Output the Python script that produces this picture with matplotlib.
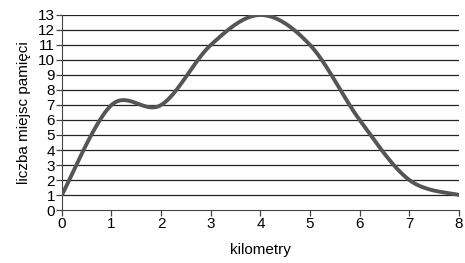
import numpy as np
import matplotlib.pyplot as plt

plt.rcParams['font.family'] = ['Liberation Sans', 'DejaVu Sans']

km = [0, 1, 2, 3, 4, 5, 6, 7, 8]
miejsca = [1, 7, 7, 11, 13, 11, 6, 2, 1]
yticks = list(range(0, 14))
xticks = list(range(0, 9))


def smooth(xs, ys, n=40):
    # Excel-style smoothed line (Catmull-Rom via Bezier)
    p = np.column_stack([xs, ys]).astype(float)
    p = np.vstack([p[0], p, p[-1]])
    out = []
    t = np.linspace(0, 1, n)[:, None]
    for i in range(1, len(p) - 2):
        b0 = p[i]
        b1 = p[i] + (p[i + 1] - p[i - 1]) / 6
        b2 = p[i + 1] - (p[i + 2] - p[i]) / 6
        b3 = p[i + 1]
        seg = (1 - t) ** 3 * b0 + 3 * (1 - t) ** 2 * t * b1 + 3 * (1 - t) * t ** 2 * b2 + t ** 3 * b3
        out.append(seg)
    out = np.vstack(out)
    return out[:, 0], out[:, 1]


fig = plt.figure(figsize=(4.65, 2.63), dpi=100)
ax = fig.add_axes([0.133, 0.2015, 0.854, 0.7415])

sx, sy = smooth(km, miejsca)
ax.plot(sx, sy, color='#555555', lw=2.8, solid_capstyle='round', zorder=3)

for v in yticks[1:]:
    ax.axhline(v, color='#222222', lw=0.9, zorder=1)

ax.set_xlim(0, 8)
ax.set_ylim(0, 13)
ax.set_xticks(xticks)
ax.set_yticks(yticks)
ax.spines['top'].set_visible(False)
ax.spines['right'].set_visible(False)
ax.spines['left'].set_color('#444444')
ax.spines['bottom'].set_color('#444444')
ax.tick_params(direction='out', length=4, width=0.9, colors='#444444', labelcolor='black', labelsize=11, pad=1)
ax.set_xlabel('kilometry', fontsize=11, labelpad=9)
ax.set_ylabel('liczba miejsc pamięci', fontsize=11, labelpad=5)

plt.savefig('out.png', dpi=100)
